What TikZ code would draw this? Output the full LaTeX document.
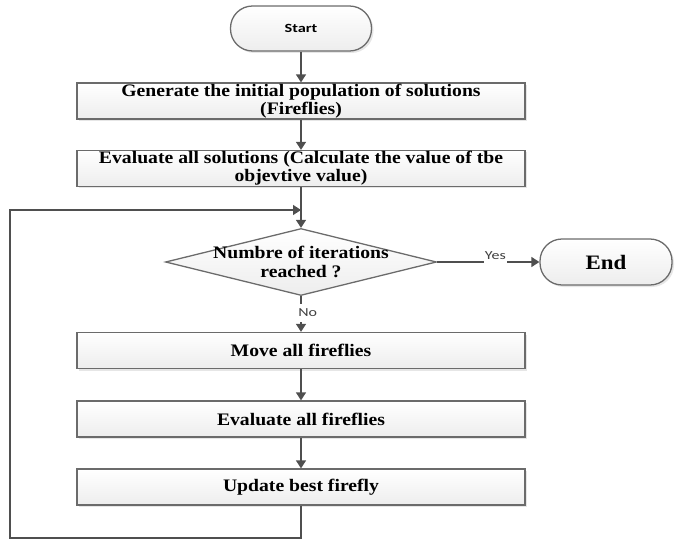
\documentclass[tikz,border=0pt]{standalone}
\usepackage{fontspec}
\setmainfont{Liberation Serif}[FakeStretch=1.12]
\newfontfamily\labelfont{Carlito}[FakeStretch=1.3]
\usetikzlibrary{calc}
\usetikzlibrary{shapes.geometric}
\usetikzlibrary{positioning}
\usetikzlibrary{arrows.meta}
\usetikzlibrary{shadows}
\definecolor{edgegray}{HTML}{4F4F4F}
\definecolor{boxgray}{HTML}{6B6B6B}
\tikzstyle{process} = [rectangle, draw=boxgray, line width=1.1pt,
    top color=white, bottom color=gray!14,
    drop shadow={shadow xshift=0.06cm, shadow yshift=-0.06cm, opacity=0.2},
    minimum width=13.44cm, minimum height=1.08cm, inner sep=0pt,
    align=center, font=\fontsize{15}{15.5}\selectfont\bfseries]
\tikzstyle{terminal} = [rectangle, rounded corners=0.66cm, draw=boxgray,
    line width=1.1pt, top color=white, bottom color=gray!14,
    drop shadow={shadow xshift=0.06cm, shadow yshift=-0.06cm, opacity=0.2}]
\tikzstyle{decision} = [diamond, draw=boxgray, line width=1.1pt,
    top color=white, bottom color=gray!14, inner sep=0pt,
    minimum width=8.13cm, minimum height=2.01cm]
\tikzstyle{line} = [draw=edgegray, line width=1.3pt,
    -{Triangle[length=0.24cm, width=0.3cm]}]
\tikzstyle{answer} = [anchor=center, fill=white, inner xsep=1pt, inner ysep=4pt,
    text=black!75, font=\labelfont\fontsize{10.5}{11}\selectfont]

\begin{document}
\begin{tikzpicture}[node distance = 2cm, auto]
    \useasboundingbox (0,0) rectangle (20.58,-16.2);
    % Place nodes
    \node [terminal, minimum width=4.23cm, minimum height=1.35cm,
        font=\labelfont\bfseries\fontsize{10.7}{12}\selectfont] (start) at (9.03,-0.855) {Start};
    \node [process, below of=start, node distance=2.175cm] (init)
        {Generate the initial population of solutions\\(Fireflies)};
    \node [process, below of=init, node distance=2.025cm] (evalall)
        {Evaluate all solutions (Calculate the value of tbe\\objevtive value)};
    \node [decision, below of=evalall, node distance=2.805cm,
        label={[align=center, font=\fontsize{15}{15.5}\selectfont\bfseries]center:Numbre of iterations\\reached ?}] (cond) {};
    \node [terminal, right of=cond, node distance=9.15cm, minimum width=3.96cm,
        minimum height=1.38cm, font=\fontsize{17.5}{18}\selectfont\bfseries] (end) {End};
    \node [process, below of=cond, node distance=2.655cm] (move) {Move all fireflies};
    \node [process, below of=move, node distance=2.055cm] (evalff) {Evaluate all fireflies};
    \node [process, below of=evalff, node distance=2.04cm] (update) {Update best firefly};
    % Loop corners
    \coordinate (loopbot) at (0.3,-16.14);
    \coordinate (merge) at (9.03,-6.3);
    % Draw edges
    \path [line] (start) -- (init);
    \path [line] (init) -- (evalall);
    \path [line] (evalall) -- (cond);
    \path [line] (cond) -- node[answer, pos=0.57, yshift=0.2cm] {Yes} (end);
    \path [line] (cond) -- node[answer, pos=0.47, xshift=0.2cm] {No} (move);
    \path [line] (move) -- (evalff);
    \path [line] (evalff) -- (update);
    \path [line] (update.south) |- (loopbot) |- (merge);
\end{tikzpicture}
\end{document}
